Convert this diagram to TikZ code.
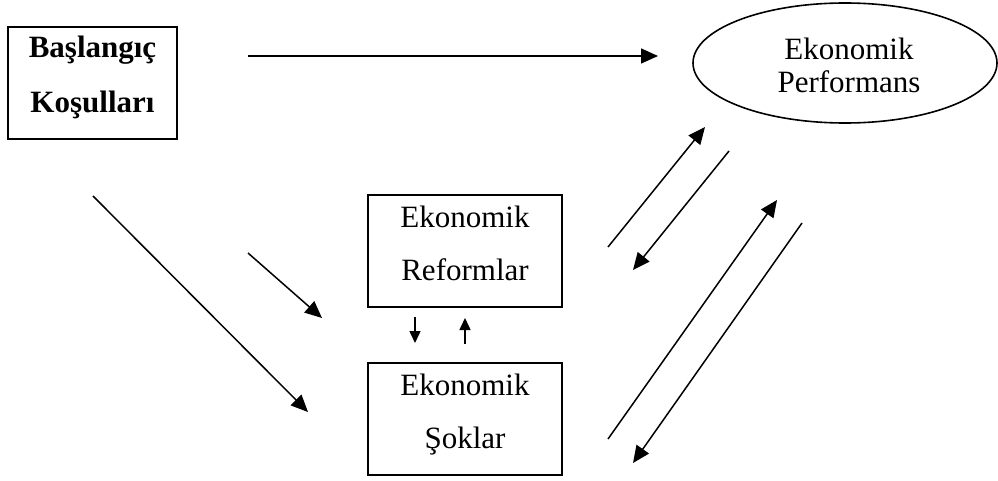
\documentclass[tikz,border=0pt]{standalone}
\usepackage{fontspec}
\setmainfont{Liberation Serif}
\usetikzlibrary{arrows.meta}
\begin{document}
\begin{tikzpicture}[x=1pt,y=-1pt,
  box/.style={draw,line width=2pt},
  txt/.style={anchor=base,inner sep=0pt,font=\fontsize{31}{31}\selectfont},
  btxt/.style={txt,font=\fontsize{31}{31}\selectfont\bfseries},
  arr/.style={line width=1.5pt,-{Triangle[length=17pt,width=15pt]}},
  sarr/.style={line width=1.5pt,-{Triangle[length=12pt,width=11pt]}}]
\useasboundingbox (0,0) rectangle (998,481);
% boxes
\draw[box] (8,27) rectangle (177,139);
\node[btxt] (b1) at (92.5,58) {Başlangıç};
\node[btxt] (b2) at (92.5,113) {Koşulları};
\draw[line width=1.6pt] (845,63) ellipse [x radius=152, y radius=60];
\node[txt] (e1) at (849,60) {Ekonomik};
\node[txt] (e2) at (849,93) {Performans};
\draw[box] (368,195) rectangle (562,307);
\node[txt] (r1) at (465,227) {Ekonomik};
\node[txt] (r2) at (465,280) {Reformlar};
\draw[box] (368,363) rectangle (562,475);
\node[txt] (s1) at (465,395) {Ekonomik};
\node[txt] (s2) at (465,448) {Şoklar};
% arrow end points
\coordinate (t0) at (248,56); \coordinate (t1) at (658,56);
\coordinate (a0) at (248,253); \coordinate (a1) at (322,318);
\coordinate (c0) at (93,196); \coordinate (c1) at (308,412);
\coordinate (u0) at (608,247); \coordinate (u1) at (705,127);
\coordinate (d0) at (729,151); \coordinate (d1) at (633,270);
\coordinate (v0) at (608,439); \coordinate (v1) at (777,200);
\coordinate (w0) at (802,223); \coordinate (w1) at (633,463);
\coordinate (m0) at (415,317); \coordinate (m1) at (415,343);
\coordinate (n0) at (465,344); \coordinate (n1) at (465,318);
\draw[arr] (t0) -- (t1);
\draw[arr] (a0) -- (a1);
\draw[arr] (c0) -- (c1);
\draw[arr] (u0) -- (u1);
\draw[arr] (d0) -- (d1);
\draw[arr] (v0) -- (v1);
\draw[arr] (w0) -- (w1);
\draw[sarr] (m0) -- (m1);
\draw[sarr] (n0) -- (n1);
\end{tikzpicture}
\end{document}
